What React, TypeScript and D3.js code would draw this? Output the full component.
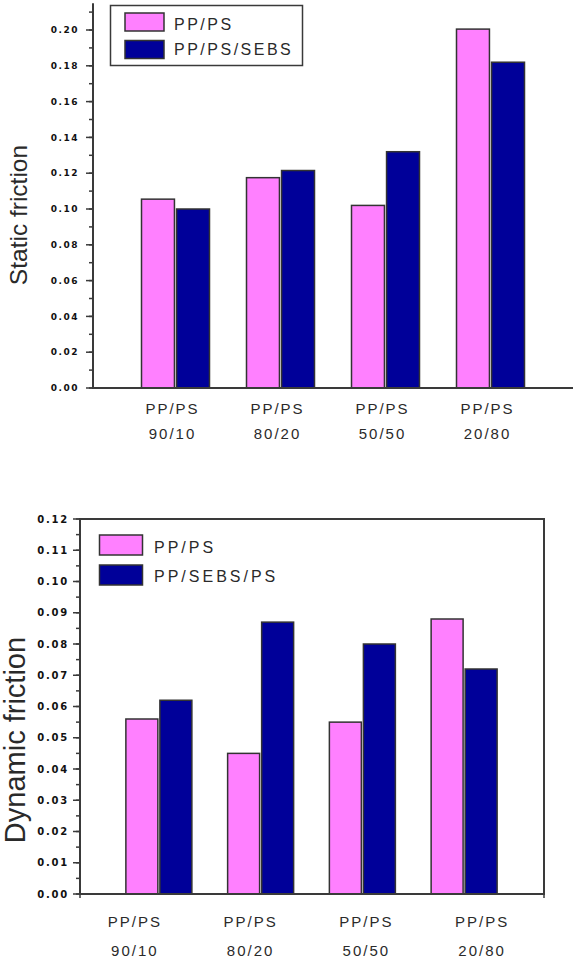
import React from "react";
import * as d3 from "d3";

// Blend ratios (PP/PS) on the x axis
const categories = ["90/10", "80/20", "50/50", "20/80"];
const categoryPrefix = "PP/PS";

// Static friction coefficients
const staticSeries = ["PP/PS", "PP/PS/SEBS"];
const staticPPPS = [0.1055, 0.1175, 0.102, 0.2005];
const staticPPPSSEBS = [0.1, 0.1215, 0.132, 0.182];
const staticTicks = [0, 0.02, 0.04, 0.06, 0.08, 0.1, 0.12, 0.14, 0.16, 0.18, 0.2];

// Dynamic friction coefficients
const dynamicSeries = ["PP/PS", "PP/SEBS/PS"];
const dynamicPPPS = [0.056, 0.045, 0.055, 0.088];
const dynamicPPSEBSPS = [0.062, 0.087, 0.08, 0.072];
const dynamicTicks = [0, 0.01, 0.02, 0.03, 0.04, 0.05, 0.06, 0.07, 0.08, 0.09, 0.1, 0.11, 0.12];

const PINK = "#FF80FF";
const NAVY = "#000099";
const colors = [PINK, NAVY];
const AXIS = "#3a3a3a";
const TEXT = "#2a2a2a";
const tickFont = "'DejaVu Sans', sans-serif";
const labelFont = "'Liberation Sans', Arial, sans-serif";

function StaticChart() {
  const y = d3.scaleLinear().domain([0, 0.2]).range([388, 30]);
  const yTop = 0.215;
  const x0 = d3.scaleBand().domain(categories).range([123, 543]);
  const x1 = d3.scaleBand().domain(staticSeries).range([-34, 34]).paddingInner(0.06);
  const values = [staticPPPS, staticPPPSSEBS];
  const minor = d3.range(0, 0.2151, 0.01);
  const axisX = 93;

  return (
    <g>
      {/* bars */}
      {categories.map((c, i) =>
        staticSeries.map((s, j) => {
          const cx = (x0(c) as number) + x0.bandwidth() / 2;
          const v = values[j][i];
          return (
            <rect
              key={c + s}
              x={cx + (x1(s) as number)}
              y={y(v)}
              width={x1.bandwidth()}
              height={y(0) - y(v)}
              fill={colors[j]}
              stroke="#333"
              strokeWidth={1.5}
            />
          );
        })
      )}
      {/* axes */}
      <line x1={axisX} x2={573} y1={y(0)} y2={y(0)} stroke={AXIS} strokeWidth={2} />
      <line x1={axisX} x2={axisX} y1={y(0) + 1} y2={y(yTop)} stroke={AXIS} strokeWidth={2} />
      {minor.map((t, k) => (
        <line key={"m" + k} x1={axisX - 4} x2={axisX} y1={y(t)} y2={y(t)} stroke={AXIS} strokeWidth={1.5} />
      ))}
      {staticTicks.map((t) => (
        <g key={t}>
          <line x1={axisX - 7} x2={axisX} y1={y(t)} y2={y(t)} stroke={AXIS} strokeWidth={1.5} />
          <text
            x={79}
            y={y(t)}
            dy="0.35em"
            textAnchor="end"
            fontFamily={tickFont}
            fontWeight="bold"
            fontSize={9}
            letterSpacing={1.5}
            fill="#111"
          >
            {d3.format(".2f")(t)}
          </text>
        </g>
      ))}
      {/* category labels */}
      {categories.map((c) => {
        const cx = (x0(c) as number) + x0.bandwidth() / 2 - 3;
        return (
          <g key={"l" + c} fontFamily={labelFont} fontSize={15} fill={TEXT} letterSpacing={2} textAnchor="middle">
            <text x={cx} y={413.5}>{categoryPrefix}</text>
            <text x={cx} y={438.5}>{c}</text>
          </g>
        );
      })}
      {/* y title */}
      <text
        transform={`translate(27,${215}) rotate(-90)`}
        textAnchor="middle"
        fontFamily={labelFont}
        fontSize={24.5}
        fill={TEXT}
      >
        Static friction
      </text>
      {/* legend */}
      <rect x={110.5} y={5.5} width={192} height={60} fill="white" stroke={AXIS} strokeWidth={1.5} />
      {staticSeries.map((s, j) => (
        <g key={"lg" + s}>
          <rect x={125} y={13 + j * 27.5} width={39} height={18} fill={colors[j]} stroke="#333" strokeWidth={1.5} />
          <text x={174} y={29.5 + j * 25.5} fontFamily={labelFont} fontSize={16} letterSpacing={2.5} fill={TEXT}>
            {s}
          </text>
        </g>
      ))}
    </g>
  );
}

function DynamicChart() {
  const y = d3.scaleLinear().domain([0, 0.12]).range([894, 519]);
  const x0 = d3.scaleBand().domain(categories).range([108, 515]);
  const x1 = d3.scaleBand().domain(dynamicSeries).range([-33, 33]).paddingInner(0.06);
  const xl = d3.scaleBand().domain(categories).range([77, 540]);
  const values = [dynamicPPPS, dynamicPPSEBSPS];
  const minor = d3.range(0, 0.1201, 0.005);
  const left = 80;
  const right = 544;

  return (
    <g>
      {categories.map((c, i) =>
        dynamicSeries.map((s, j) => {
          const cx = (x0(c) as number) + x0.bandwidth() / 2;
          const v = values[j][i];
          return (
            <rect
              key={c + s}
              x={cx + (x1(s) as number)}
              y={y(v)}
              width={x1.bandwidth()}
              height={y(0) - y(v)}
              fill={colors[j]}
              stroke="#333"
              strokeWidth={1.5}
            />
          );
        })
      )}
      {/* frame */}
      <rect x={left} y={y(0.12)} width={right - left} height={y(0) - y(0.12)} fill="none" stroke={AXIS} strokeWidth={2} />
      <line x1={left} x2={left} y1={y(0)} y2={y(0) + 4} stroke={AXIS} strokeWidth={1.5} />
      <line x1={right} x2={right} y1={y(0)} y2={y(0) + 4} stroke={AXIS} strokeWidth={1.5} />
      {minor.map((t, k) => (
        <line key={"m" + k} x1={left - 4} x2={left} y1={y(t)} y2={y(t)} stroke={AXIS} strokeWidth={1.5} />
      ))}
      {dynamicTicks.map((t) => (
        <g key={t}>
          <line x1={left - 7} x2={left} y1={y(t)} y2={y(t)} stroke={AXIS} strokeWidth={1.5} />
          <text
            x={69}
            y={y(t)}
            dy="0.35em"
            textAnchor="end"
            fontFamily={tickFont}
            fontWeight="bold"
            fontSize={10}
            letterSpacing={1.8}
            fill="#111"
          >
            {d3.format(".2f")(t)}
          </text>
        </g>
      ))}
      {categories.map((c) => {
        const cx = (xl(c) as number) + xl.bandwidth() / 2;
        return (
          <g key={"l" + c} fontFamily={labelFont} fontSize={15} fill={TEXT} letterSpacing={2} textAnchor="middle">
            <text x={cx} y={927}>{categoryPrefix}</text>
            <text x={cx} y={956}>{c}</text>
          </g>
        );
      })}
      <text
        transform={`translate(25,${740}) rotate(-90)`}
        textAnchor="middle"
        fontFamily={labelFont}
        fontSize={29}
        fill={TEXT}
      >
        Dynamic friction
      </text>
      {dynamicSeries.map((s, j) => (
        <g key={"lg" + s}>
          <rect x={99.5} y={535 + j * 30} width={43} height={20} fill={colors[j]} stroke="#333" strokeWidth={1.5} />
          <text x={154} y={553 + j * 29} fontFamily={labelFont} fontSize={16} letterSpacing={3} fill={TEXT}>
            {s}
          </text>
        </g>
      ))}
    </g>
  );
}

export default function App() {
  return (
    <svg
      width={573}
      height={962}
      viewBox="0 0 573 962"
      style={{ position: "absolute", left: 0, top: 0, background: "white" }}
    >
      <rect x={0} y={0} width={573} height={962} fill="white" />
      <StaticChart />
      <DynamicChart />
    </svg>
  );
}
